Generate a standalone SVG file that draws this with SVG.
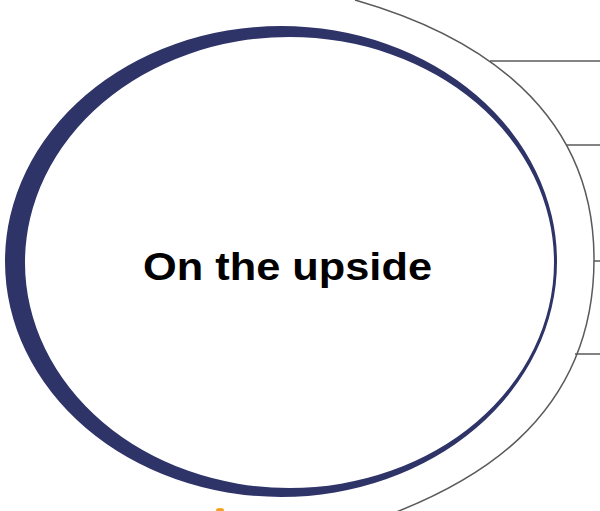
<svg xmlns="http://www.w3.org/2000/svg" width="600" height="511" viewBox="0 0 600 511">
  <style>
    .conn { fill: none; stroke: #5a5a5a; stroke-width: 1.5; }
    .label { font-family: "Liberation Sans", Arial, sans-serif; font-weight: bold; font-size: 39px; fill: #000000; }
  </style>
  <rect x="0" y="0" width="600" height="511" fill="#ffffff"/>
  <g id="connectors">
    <path class="conn" d="M355,0 C453,28 594,94 594,259 C594,424 465,488 375,520"/>
    <line class="conn" x1="490" y1="61" x2="600" y2="61"/>
    <line class="conn" x1="567" y1="145" x2="600" y2="145"/>
    <line class="conn" x1="594" y1="261" x2="600" y2="261"/>
    <line class="conn" x1="575" y1="354" x2="600" y2="354"/>
  </g>
  <g id="node-upside">
    <path fill="#2e3368" fill-rule="evenodd" d="M5,261.5 A276,235.5 0 1,0 557,261.5 A276,235.5 0 1,0 5,261.5 Z M25,262.5 A264.5,225.5 0 1,0 554,262.5 A264.5,225.5 0 1,0 25,262.5 Z"/>
    <text class="label" x="143" y="280" textLength="289" lengthAdjust="spacingAndGlyphs">On the upside</text>
  </g>
  <g id="mark">
    <ellipse cx="220" cy="510" rx="4" ry="2" fill="#f5a020"/>
  </g>
</svg>
